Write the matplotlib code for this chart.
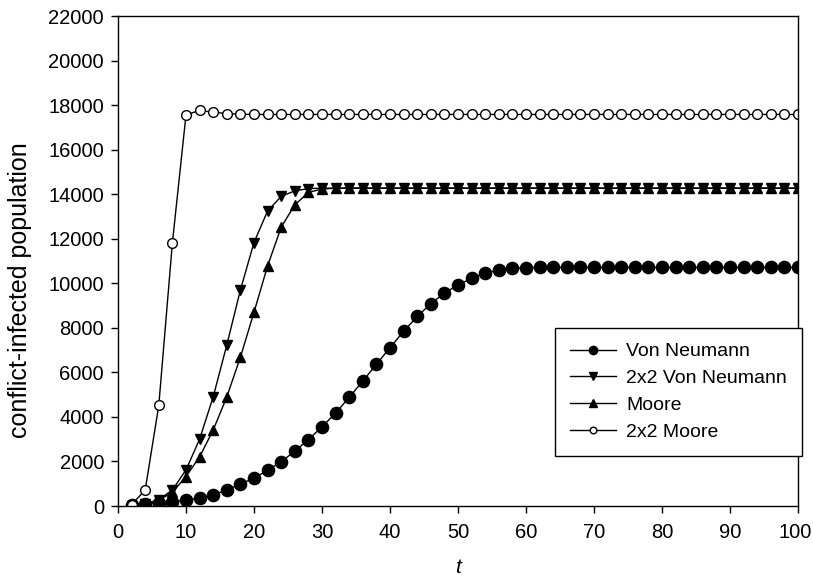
import matplotlib
matplotlib.use("Agg")
import matplotlib.pyplot as plt
import matplotlib.transforms as mtransforms
import numpy as np

plt.rcParams['font.family'] = ['Liberation Sans', 'DejaVu Sans']

t = list(range(2, 101, 2))

von_neumann = [50, 90, 120, 190, 270, 345, 500, 718, 980, 1255,
               1600, 1990, 2460, 2980, 3560, 4170, 4880, 5610, 6360, 7110,
               7840, 8510, 9080, 9560, 9920, 10220, 10450, 10600, 10670, 10700] + [10710] * 20
vn_2x2 = [20, 100, 280, 720, 1620, 3000, 4900, 7230, 9700, 11830,
          13250, 13900, 14150, 14250] + [14270] * 36
moore = [15, 80, 250, 620, 1320, 2210, 3410, 4900, 6680, 8700,
         10780, 12520, 13520, 14080, 14230] + [14270] * 35
moore_2x2 = [60, 720, 4520, 11820, 17560, 17760, 17680, 17620, 17590] + [17580] * 41

labels = ["Von Neumann", "2x2 Von Neumann", "Moore", "2x2 Moore"]

fig = plt.figure(figsize=(8.13, 5.87), dpi=100)
ax = fig.add_axes([118/813, 1-506/587, 680/813, 490/587])

lw = 1.0
ax.plot(t, von_neumann, '-', color='black', lw=lw, marker='o', markersize=8.8,
        markerfacecolor='black', markeredgecolor='black', label=labels[0])
ax.plot(t, vn_2x2, '-', color='black', lw=lw, marker='v', markersize=7.8,
        markerfacecolor='black', markeredgecolor='black', label=labels[1])
ax.plot(t, moore, '-', color='black', lw=lw, marker='^', markersize=7.8,
        markerfacecolor='black', markeredgecolor='black', label=labels[2])
ax.plot(t, moore_2x2, '-', color='black', lw=lw, marker='o', markersize=7.0,
        markerfacecolor='white', markeredgecolor='black', markeredgewidth=1.0, label=labels[3])

ax.set_xlim(0, 100)
ax.set_ylim(0, 22000)
ax.set_xticks(np.arange(0, 101, 10))
ax.set_yticks(np.arange(0, 22001, 2000))
ax.tick_params(axis='both', direction='out', length=5, width=1, labelsize=14.5, colors='black')
ax.tick_params(axis='x', pad=7)
ax.tick_params(axis='y', pad=5)
ax.tick_params(top=False, right=False)
for s in ax.spines.values():
    s.set_linewidth(1.0)
    s.set_color('black')

ax.set_xlabel('t', fontsize=15, style='italic', labelpad=12)
ax.set_ylabel('conflict-infected population', fontsize=18)
ax.yaxis.set_label_coords(-0.127, 0.44)

# nudge the last x tick label so it stays inside the figure
last = ax.get_xticklabels()[-1]
offset = mtransforms.ScaledTranslation(-3/100, 0, fig.dpi_scale_trans)
last.set_transform(last.get_transform() + offset)

leg = ax.legend(loc='upper left', bbox_to_anchor=(0.643, 0.363), fontsize=14,
                frameon=True, fancybox=False, edgecolor='black', framealpha=1,
                handlelength=2.4, handletextpad=0.5, labelspacing=0.48,
                borderpad=0.75, markerscale=0.68, borderaxespad=0)
leg.get_frame().set_linewidth(1.0)

fig.savefig('out.png', dpi=100, facecolor='white')
